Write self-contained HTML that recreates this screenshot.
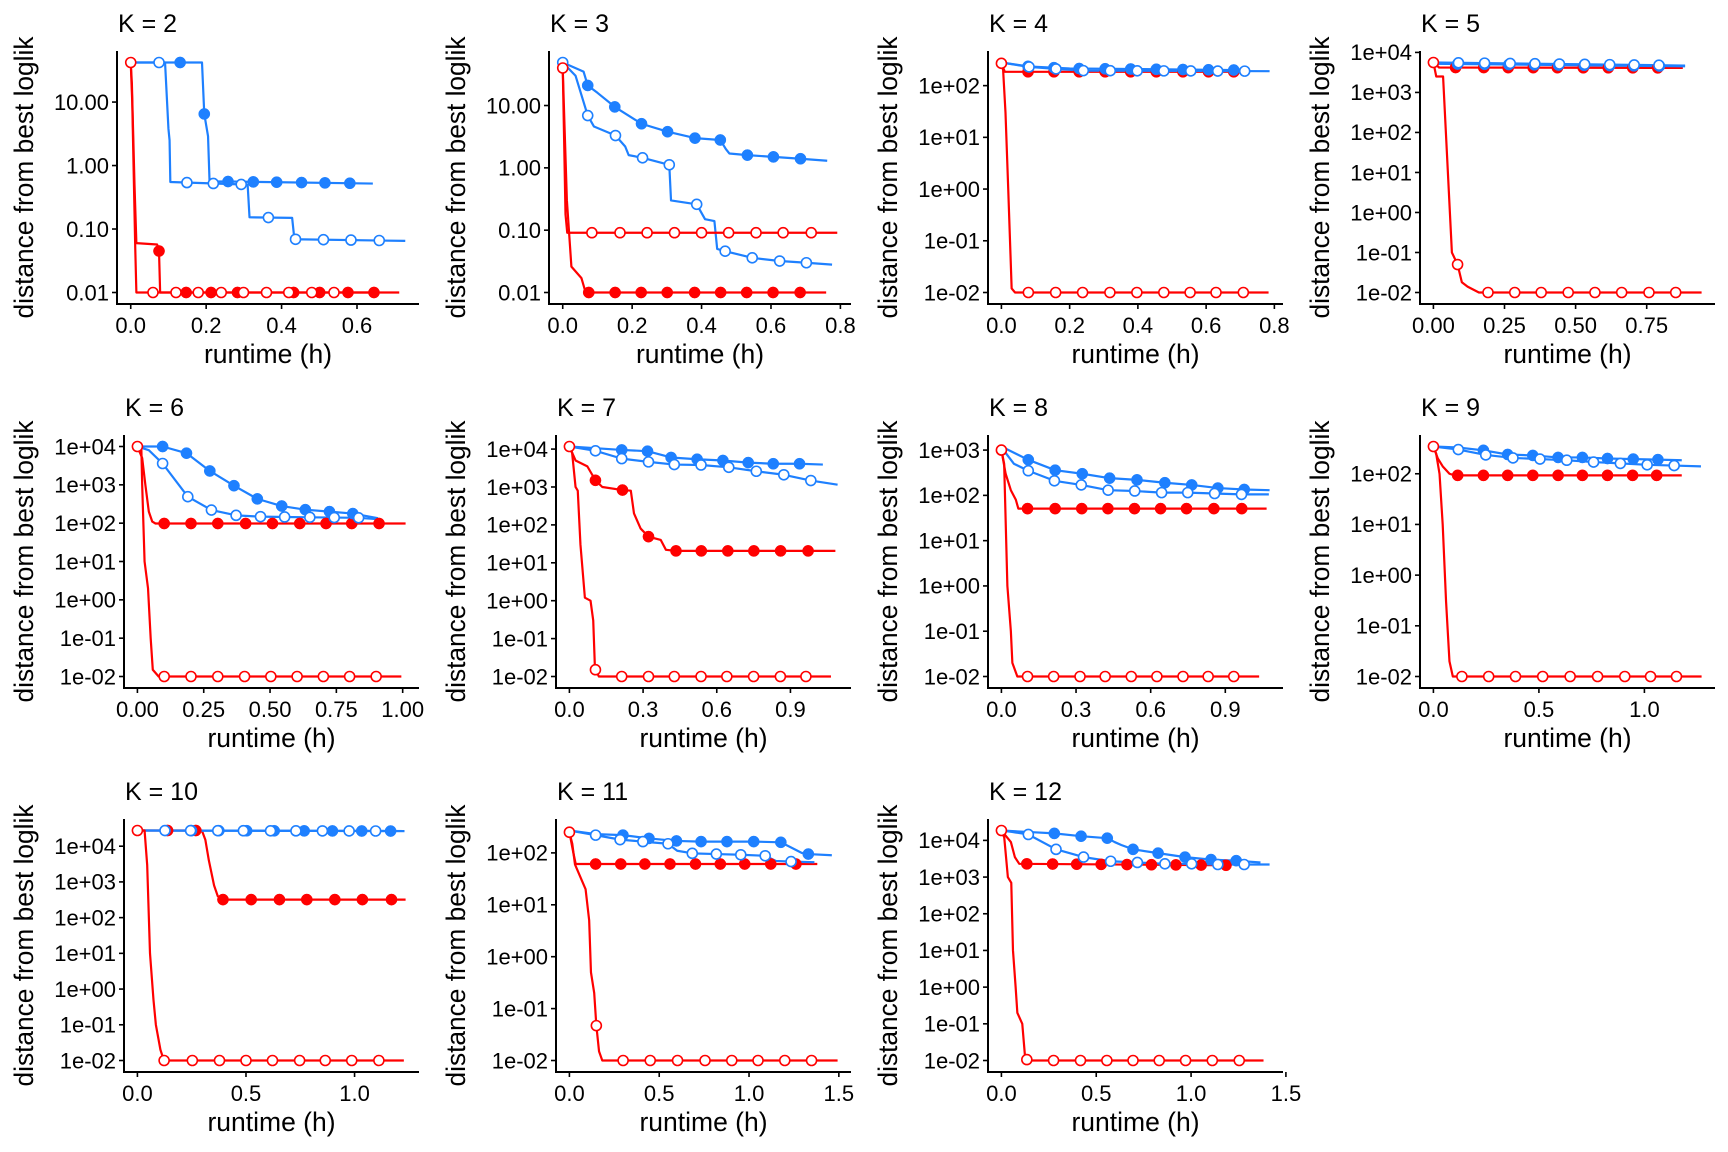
<!DOCTYPE html>
<html><head><meta charset="utf-8">
<style>
html,body{margin:0;padding:0;background:#fff;}
svg{display:block;font-family:"Liberation Sans",Arial,sans-serif;}
</style></head>
<body>
<svg id="fig" width="1728" height="1152" viewBox="0 0 1728 1152" xmlns="http://www.w3.org/2000/svg">
<rect width="1728" height="1152" fill="#fff"/>
</svg>
<script>
const panelK = [2,3,4,5,6,7,8,9,10,11,12];
const xTickVals = [[0,0.2,0.4,0.6],[0,0.2,0.4,0.6,0.8],[0,0.2,0.4,0.6,0.8],[0,0.25,0.5,0.75],[0,0.25,0.5,0.75,1],[0,0.3,0.6,0.9],[0,0.3,0.6,0.9],[0,0.5,1],[0,0.5,1],[0,0.5,1,1.5],[0,0.5,1,1.5]];
const xTickLabels = [["0.0","0.2","0.4","0.6"],["0.0","0.2","0.4","0.6","0.8"],["0.0","0.2","0.4","0.6","0.8"],["0.00","0.25","0.50","0.75"],["0.00","0.25","0.50","0.75","1.00"],["0.0","0.3","0.6","0.9"],["0.0","0.3","0.6","0.9"],["0.0","0.5","1.0"],["0.0","0.5","1.0"],["0.0","0.5","1.0","1.5"],["0.0","0.5","1.0","1.5"]];
const yTickVals = [[0.01,0.1,1,10],[0.01,0.1,1,10],[0.01,0.1,1,10,100],[0.01,0.1,1,10,100,1000,10000],[0.01,0.1,1,10,100,1000,10000],[0.01,0.1,1,10,100,1000,10000],[0.01,0.1,1,10,100,1000],[0.01,0.1,1,10,100],[0.01,0.1,1,10,100,1000,10000],[0.01,0.1,1,10,100],[0.01,0.1,1,10,100,1000,10000]];
const yTickLabels = [["0.01","0.10","1.00","10.00"],["0.01","0.10","1.00","10.00"],["1e-02","1e-01","1e+00","1e+01","1e+02"],["1e-02","1e-01","1e+00","1e+01","1e+02","1e+03","1e+04"],["1e-02","1e-01","1e+00","1e+01","1e+02","1e+03","1e+04"],["1e-02","1e-01","1e+00","1e+01","1e+02","1e+03","1e+04"],["1e-02","1e-01","1e+00","1e+01","1e+02","1e+03"],["1e-02","1e-01","1e+00","1e+01","1e+02"],["1e-02","1e-01","1e+00","1e+01","1e+02","1e+03","1e+04"],["1e-02","1e-01","1e+00","1e+01","1e+02"],["1e-02","1e-01","1e+00","1e+01","1e+02","1e+03","1e+04"]];

const redFilledT = [[0,0.003,0.01,0.015,0.07,0.075,0.078,0.65],[0,0.005,0.012,0.025,0.054,0.066,0.759],[0,0.01,0.681],[0,0.02,0.877],[0,0.018,0.03,0.043,0.056,0.068,1.011],[0,0.025,0.073,0.106,0.134,0.216,0.25,0.263,0.29,0.322,0.372,0.393,0.434,1.083],[0,0.017,0.038,0.058,0.068,1.066],[0,0.021,0.044,0.076,0.1,1.177],[0,0.297,0.313,0.329,0.353,0.37,0.394,1.235],[0,0.022,0.035,1.38],[0,0.05,0.071,0.094,1.184]];
const redFilledV = [[42,20,0.5,0.06,0.057,0.045,0.01,0.01],[40,5,0.3,0.026,0.017,0.01,0.01],[270,185,185],[5600,4200,4100],[10000,5000,1000,200,110,98,98],[11700,5000,3500,1500,1000,830,800,200,80,49,40,22,20.6,20.6],[1000,300,130,80,51,51],[345,200,140,100,93,93],[27500,27500,15000,4000,800,400,320,320],[250,100,61,61],[18600,9000,3500,2300,2100]];
const redFilledM = [[0.075,0.147,0.213,0.283,0.432,0.501,0.576,0.645],[0.075,0.151,0.226,0.301,0.38,0.455,0.53,0.606,0.684],[0.078,0.154,0.228,0.304,0.379,0.454,0.532,0.607,0.681],[0.078,0.177,0.263,0.351,0.436,0.527,0.615,0.701,0.789],[0.101,0.202,0.303,0.408,0.509,0.612,0.711,0.808,0.911],[0.106,0.216,0.322,0.434,0.537,0.645,0.751,0.86,0.972],[0.105,0.216,0.323,0.428,0.535,0.64,0.744,0.854,0.966],[0.115,0.237,0.352,0.471,0.591,0.706,0.825,0.944,1.058],[0.139,0.269,0.394,0.524,0.654,0.78,0.909,1.036,1.17],[0.146,0.286,0.42,0.56,0.702,0.84,0.976,1.121,1.261],[0.134,0.27,0.397,0.526,0.662,0.791,0.92,1.053,1.184]];

const redOpenT = [[0,0.004,0.012,0.015,0.712],[0,0.004,0.008,0.013,0.791],[0,0.005,0.012,0.02,0.03,0.04,0.783],[0,0.01,0.034,0.065,0.085,0.1,0.12,0.16,0.943],[0,0.015,0.018,0.027,0.04,0.05,0.058,0.08,0.995],[0,0.011,0.025,0.034,0.045,0.063,0.086,0.097,0.104,0.12,1.065],[0,0.011,0.024,0.038,0.044,0.064,1.036],[0,0.013,0.029,0.044,0.06,0.076,0.092,1.271],[0,0.033,0.045,0.058,0.074,0.085,0.106,0.122,1.227],[0,0.016,0.031,0.09,0.11,0.12,0.138,0.15,0.165,0.183,1.493],[0,0.015,0.034,0.052,0.061,0.075,0.084,0.11,0.125,0.138,1.382]];
const redOpenV = [[42,10,0.05,0.01,0.01],[40,2.8,0.18,0.091,0.091],[270,200,30,1,0.012,0.01,0.01],[5600,2500,2500,0.1,0.05,0.018,0.014,0.01,0.01],[10000,8000,1000,10,2,0.1,0.015,0.01,0.01],[11700,8000,1000,800,30,1.2,1.0,0.3,0.016,0.01,0.01],[1000,500,1,0.1,0.02,0.01,0.01],[345,250,100,10,0.3,0.02,0.01,0.01],[27500,27500,3000,10,0.5,0.1,0.02,0.01,0.01],[250,150,60,20,5,0.5,0.2,0.047,0.015,0.01,0.01],[18600,12000,1000,700,10,1,0.2,0.1,0.012,0.01,0.01]];
const redOpenM = [[0,0.059,0.12,0.179,0.24,0.299,0.36,0.419,0.48,0.539],[0,0.084,0.165,0.243,0.322,0.4,0.478,0.557,0.635,0.716],[0,0.079,0.159,0.238,0.318,0.397,0.476,0.553,0.629,0.709],[0,0.085,0.192,0.286,0.379,0.474,0.568,0.662,0.758,0.852],[0,0.101,0.202,0.303,0.404,0.503,0.602,0.701,0.8,0.9],[0,0.106,0.213,0.322,0.427,0.536,0.641,0.75,0.859,0.963],[0,0.105,0.21,0.316,0.417,0.522,0.625,0.73,0.831,0.934],[0,0.135,0.262,0.389,0.518,0.648,0.778,0.907,1.029,1.152],[0,0.123,0.253,0.378,0.5,0.622,0.747,0.865,0.987,1.112],[0,0.15,0.299,0.45,0.602,0.755,0.904,1.05,1.199,1.348],[0,0.134,0.275,0.417,0.556,0.694,0.832,0.971,1.112,1.254]];

const blueFilledT = [[0,0.189,0.195,0.205,0.209,0.258,0.642],[0,0.06,0.072,0.1,0.15,0.227,0.302,0.381,0.454,0.47,0.48,0.532,0.607,0.685,0.762],[0,0.08,0.2,0.69],[0,0.885],[0,0.095,0.185,0.273,0.364,0.452,0.544,0.633,0.724,0.812,0.907],[0,0.213,0.318,0.414,0.52,0.625,0.728,0.83,0.937,1.032],[0,0.108,0.216,0.325,0.435,0.545,0.657,0.765,0.87,0.976,1.078],[0,0.115,0.237,0.352,0.471,0.591,0.706,0.825,0.947,1.064,1.177],[0,1.23],[0,0.146,0.298,0.443,0.596,0.733,0.877,1.026,1.177,1.293,1.33,1.461],[0,0.138,0.279,0.42,0.558,0.597,0.632,0.694,0.826,0.968,1.105,1.238,1.366]];
const blueFilledV = [[42,42,6.5,2.9,0.56,0.56,0.52],[49,35,21,16,9.5,5.1,3.8,3.0,2.8,2.0,1.7,1.6,1.5,1.4,1.3],[280,235,215,200],[5200,4500],[10000,10000,6700,2300,950,430,280,225,200,178,135],[11700,9500,8800,6000,5400,5000,4400,4100,4100,3900],[1200,610,360,300,240,220,190,170,145,135,130],[345,330,290,240,230,210,210,200,195,190,185],[27500,26500],[270,230,220,190,170,165,165,165,160,100,95,90],[18600,17000,15500,13000,11500,9000,7500,5700,4500,3500,3000,2800,2500]];
const blueFilledM = [[0.131,0.195,0.258,0.325,0.387,0.453,0.515,0.581],[0.072,0.15,0.227,0.302,0.381,0.454,0.532,0.607,0.685],[0.078,0.154,0.228,0.304,0.379,0.454,0.532,0.607,0.681],[0.085,0.18,0.265,0.355,0.44,0.53,0.62,0.705,0.795],[0.095,0.185,0.273,0.364,0.452,0.544,0.633,0.724,0.812],[0.213,0.318,0.414,0.52,0.625,0.728,0.83,0.937],[0.108,0.216,0.325,0.435,0.545,0.657,0.765,0.87,0.976],[0.237,0.352,0.471,0.591,0.706,0.825,0.947,1.064],[0.249,0.375,0.503,0.63,0.768,0.898,1.033,1.166],[0.298,0.443,0.596,0.733,0.877,1.026,1.177,1.33],[0.279,0.42,0.558,0.694,0.826,0.968,1.105,1.238]];

const blueOpenT = [[0,0.091,0.1,0.103,0.105,0.31,0.315,0.428,0.434,0.728],[0,0.037,0.072,0.09,0.152,0.18,0.19,0.23,0.286,0.307,0.312,0.386,0.41,0.437,0.445,0.468,0.546,0.625,0.702,0.776],[0,0.081,0.16,0.24,0.786],[0,0.885],[0,0.043,0.095,0.19,0.279,0.372,0.464,0.555,0.65,0.742,0.834,0.918],[0,0.106,0.213,0.322,0.427,0.536,0.649,0.761,0.873,0.983,1.092],[0,0.05,0.108,0.213,0.321,0.429,0.536,0.644,0.749,0.857,0.965,1.075],[0,0.118,0.248,0.377,0.505,0.632,0.759,0.886,1.013,1.141,1.268],[0,1.23],[0,0.146,0.282,0.409,0.549,0.6,0.684,0.818,0.954,1.09,1.15,1.234,1.364],[0,0.056,0.142,0.288,0.433,0.576,0.717,0.862,1.003,1.141,1.28,1.414]];
const blueOpenV = [[42,42,3.8,2.5,0.55,0.5,0.153,0.15,0.069,0.065],[49,30,6.9,4.6,3.3,2.2,1.6,1.45,1.2,1.12,0.3,0.26,0.15,0.14,0.05,0.046,0.036,0.032,0.03,0.028],[280,230,210,195,190],[5600,4700],[10000,8000,3600,490,220,160,148,145,142,140,138,125],[11700,9000,5600,4600,3900,3800,3300,2600,2100,1480,1150],[1150,500,350,210,170,130,125,115,115,110,105,105],[345,300,235,205,195,185,170,160,150,145,140],[27500,26500],[270,220,180,165,150,110,98,95,92,88,70,68,66],[18600,17000,14500,5700,3500,2700,2500,2300,2300,2200,2200,2200]];
const blueOpenM = [[0.075,0.149,0.219,0.293,0.365,0.437,0.511,0.584,0.659],[0,0.072,0.152,0.23,0.307,0.386,0.468,0.546,0.625,0.702],[0.081,0.16,0.24,0.319,0.398,0.476,0.555,0.634,0.713],[0.088,0.18,0.27,0.357,0.443,0.532,0.62,0.706,0.793],[0.095,0.19,0.279,0.372,0.464,0.555,0.65,0.742,0.834],[0.106,0.213,0.322,0.427,0.536,0.649,0.761,0.873,0.983],[0.108,0.213,0.321,0.429,0.536,0.644,0.749,0.857,0.965],[0.118,0.248,0.377,0.505,0.632,0.759,0.886,1.013,1.141],[0.127,0.245,0.37,0.488,0.613,0.73,0.852,0.975,1.097],[0.146,0.282,0.409,0.549,0.684,0.818,0.954,1.09,1.234],[0.142,0.288,0.433,0.576,0.717,0.862,1.003,1.141,1.28]];

const NS = "http://www.w3.org/2000/svg";
const RED = "#FF0000", BLUE = "#1E80FF";
const svg = document.getElementById("fig");
function mk(tag, attrs, parent){ const e = document.createElementNS(NS, tag); for (const k in attrs) e.setAttribute(k, attrs[k]); parent.appendChild(e); return e; }
function interpLog(T, V, t){
  if (t <= T[0]) return V[0];
  for (let i = 1; i < T.length; i++){
    if (t <= T[i]){ const f = (t - T[i-1]) / (T[i] - T[i-1] || 1); return Math.pow(10, Math.log10(V[i-1]) + f * (Math.log10(V[i]) - Math.log10(V[i-1]))); }
  }
  return V[V.length-1];
}

panelK.forEach((k, p) => {
  const col = p % 4, row = Math.floor(p / 4);
  const g = mk("g", {transform: `translate(${col*432},${row*384})`}, svg);
  
  
  const L = yTickLabels[p][0].startsWith("1e") ? 124 : 117;
  const R = 419, TOP = 51, BOT = 304, W = R - L, H = BOT - TOP;
  const allSeries = [
    {T: redFilledT[p], V: redFilledV[p], M: redFilledM[p], c: RED, open: false, n: 'red-filled'},
    {T: blueFilledT[p], V: blueFilledV[p], M: blueFilledM[p], c: BLUE, open: false, n: 'blue-filled'},
    {T: blueOpenT[p], V: blueOpenV[p], M: blueOpenM[p], c: BLUE, open: true, n: 'blue-open'},
    {T: redOpenT[p], V: redOpenV[p], M: redOpenM[p], c: RED, open: true, n: 'red-open'}
  ];
  let tmax = 0, vmin = Infinity, vmax = -Infinity;
  allSeries.forEach(s => { s.T.forEach(t => tmax = Math.max(tmax, t)); s.V.forEach(v => { vmin = Math.min(vmin, v); vmax = Math.max(vmax, v); }); });
  const lmin = Math.log10(vmin), lmax = Math.log10(vmax), lr = lmax - lmin;
  const xs = t => L + W * (0.05 * tmax + t) / (1.1 * tmax);
  const ys = v => BOT - H * (0.05 * lr + Math.log10(v) - lmin) / (1.1 * lr);

  const title = mk("text", {x: L + 1, y: 32, "font-size": 25, fill: "#000"}, g);
  title.textContent = "K = " + k;
  
  

  // series lines
  allSeries.forEach(s => {
    const pts = s.T.map((t, i) => xs(t).toFixed(2) + "," + ys(s.V[i]).toFixed(2)).join(" ");
    const pl = mk("polyline", {points: pts, fill: "none", stroke: s.c, "stroke-width": 2.2, "stroke-linejoin": "round"}, g);
    
    
  });
  // markers
  allSeries.forEach(s => {
    s.M.forEach(t => {
      const c = mk("circle", {cx: xs(t).toFixed(2), cy: ys(interpLog(s.T, s.V, t)).toFixed(2), r: s.open ? 5 : 5.6, fill: s.open ? "#fff" : s.c, stroke: s.c, "stroke-width": s.open ? 1.6 : 0.5}, g);
      
      
    });
  });

  // axes
  const ya = mk("line", {x1: L, y1: TOP, x2: L, y2: BOT + 1, stroke: "#000", "stroke-width": 2}, g);
  
  
  const xa = mk("line", {x1: L - 1, y1: BOT, x2: R, y2: BOT, stroke: "#000", "stroke-width": 2}, g);
  
  

  yTickVals[p].forEach((v, i) => {
    const y = ys(v);
    const tk = mk("line", {x1: L - 5, y1: y, x2: L, y2: y, stroke: "#000", "stroke-width": 1.6}, g);
    
    
    const tx = mk("text", {x: L - 8, y: y + 7.8, "text-anchor": "end", "font-size": 22, fill: "#000"}, g);
    tx.textContent = yTickLabels[p][i];
    
    
  });
  xTickVals[p].forEach((v, i) => {
    const x = xs(v);
    const tk = mk("line", {x1: x, y1: BOT, x2: x, y2: BOT + 5, stroke: "#000", "stroke-width": 1.6}, g);
    
    
    const tx = mk("text", {x: x, y: 333, "text-anchor": "middle", "font-size": 22, fill: "#000"}, g);
    tx.textContent = xTickLabels[p][i];
    
    
  });

  const xt = mk("text", {x: (L + R) / 2, y: 363, "text-anchor": "middle", "font-size": 26.5, fill: "#000"}, g);
  xt.textContent = "runtime (h)";
  
  
  const yt = mk("text", {x: 0, y: 0, "text-anchor": "middle", "font-size": 26.5, fill: "#000", transform: `translate(33,${(TOP + BOT) / 2}) rotate(-90)`, textLength: 282, lengthAdjust: "spacingAndGlyphs"}, g);
  yt.textContent = "distance from best loglik";
  
  
});
</script>
</body></html>
